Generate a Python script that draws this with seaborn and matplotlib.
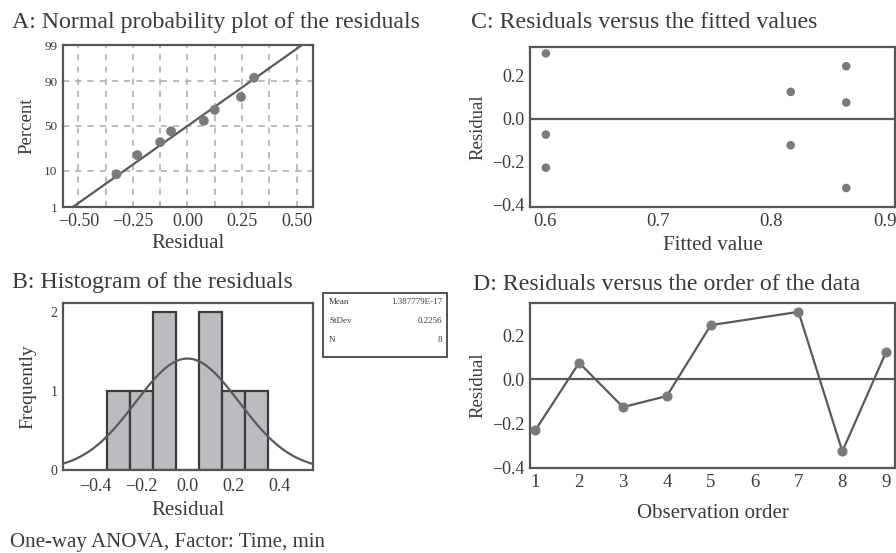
import numpy as np
import pandas as pd
import matplotlib
matplotlib.use("Agg")
import matplotlib.pyplot as plt
import seaborn as sns
from statistics import NormalDist
from matplotlib.ticker import FixedLocator, FuncFormatter
from matplotlib.patches import Rectangle

# ---------------- data ----------------
obs_order = [1, 2, 3, 4, 5, 7, 8, 9]
residuals = [-0.23, 0.075, -0.125, -0.075, 0.245, 0.305, -0.325, 0.125]
fitted = [0.601, 0.866, 0.817, 0.601, 0.866, 0.601, 0.866, 0.817]
prob_percent = [8.3, 20.2, 32.1, 44.0, 56.0, 67.9, 79.8, 91.7]
hist_bins = [-0.35, -0.25, -0.15, -0.05, 0.05, 0.15, 0.25, 0.35]
stat_labels = ["Mean", "StDev", "N"]
stat_values = ["1.387779E-17", "0.2256", "8"]
mean_res = 1.387779e-17
sd_res = 0.2256

titles = ["A: Normal probability plot of the residuals",
          "B: Histogram of the residuals",
          "C: Residuals versus the fitted values",
          "D: Residuals versus the order of the data"]
footer = "One-way ANOVA, Factor: Time, min"

# ---------------- style ----------------
sns.set_theme(style="white")
plt.rcParams["font.family"] = ["Liberation Serif", "DejaVu Serif"]
plt.rcParams["axes.unicode_minus"] = True
TXT = "#3a3a3a"
LINE = "#5a5a5a"
PT = "#7a7a7a"
plt.rcParams["text.color"] = TXT
plt.rcParams["axes.labelcolor"] = TXT
plt.rcParams["xtick.color"] = TXT
plt.rcParams["ytick.color"] = TXT

W, H = 896, 553
fig = plt.figure(figsize=(W / 100, H / 100), dpi=100)
fig.patch.set_facecolor("white")


def fmt(decimals):
    def f(v, pos):
        s = f"{v:.{decimals}f}"
        if s.startswith("-"):
            if float(s) == 0:
                s = s[1:]
            else:
                s = "\u2212" + s[1:]
        return s
    return FuncFormatter(f)


def ax_px(l, t, r, b):
    return fig.add_axes([l / W, 1 - b / H, (r - l) / W, (b - t) / H])


def frame(ax):
    for s in ax.spines.values():
        s.set_visible(True)
        s.set_color("#555555")
        s.set_linewidth(1.6)
    ax.tick_params(axis="both", which="major", direction="out", length=3,
                   width=1, color="#555555", pad=1)


axA = ax_px(63, 45, 313, 207)
axB = ax_px(63, 303, 313, 470)
axC = ax_px(530, 47, 895, 207)
axD = ax_px(530, 303, 895, 468)

# ---------------- A: normal probability plot ----------------
nd = NormalDist()
_ppf = np.vectorize(lambda v: nd.inv_cdf(v / 100.0), otypes=[float])
_cdf = np.vectorize(lambda v: nd.cdf(v) * 100.0, otypes=[float])


def fwd(p):
    p = np.clip(np.asarray(p, dtype=float), 1e-6, 100 - 1e-6)
    return _ppf(p)


def inv(z):
    return _cdf(np.asarray(z, dtype=float))


axA.set_yscale("function", functions=(fwd, inv))
sorted_res = sorted(residuals)
dfA = pd.DataFrame({"res": sorted_res, "pct": prob_percent})
xs = np.linspace(-0.6, 0.6, 200)
fit_pct = np.array([NormalDist(mean_res, sd_res).cdf(v) * 100 for v in xs])
axA.plot(xs, fit_pct, color=LINE, lw=1.6, zorder=3)
sns.scatterplot(data=dfA, x="res", y="pct", ax=axA, color=PT, s=50,
                edgecolor="none", zorder=4)
axA.set_xlim(-0.57, 0.575)
axA.set_ylim(1, 99)
axA.yaxis.set_major_locator(FixedLocator([1, 10, 50, 90, 99]))
axA.yaxis.set_minor_locator(FixedLocator([]))
axA.xaxis.set_major_locator(FixedLocator([-0.5, -0.25, 0, 0.25, 0.5]))
axA.xaxis.set_major_formatter(fmt(2))
axA.yaxis.set_major_formatter(fmt(0))
for gx in np.arange(-0.5, 0.51, 0.125):
    axA.axvline(gx, color="#a8a8a8", lw=1.1, ls=(0, (4, 4)), zorder=1)
for gy in [10, 50, 90]:
    axA.axhline(gy, color="#a8a8a8", lw=1.1, ls=(0, (4, 4)), zorder=1)
frame(axA)
axA.tick_params(axis="x", labelsize=13)
axA.tick_params(axis="y", labelsize=9.5)
axA.set_xlabel("Residual", fontsize=15, labelpad=3)
axA.set_ylabel("Percent", fontsize=13.5, labelpad=6)

# ---------------- B: histogram ----------------
sns.histplot(x=residuals, bins=hist_bins, ax=axB, color="#bcbcc0",
             edgecolor="#3c3c3c", linewidth=1.6, alpha=1, zorder=2)
xs2 = np.linspace(-0.56, 0.56, 300)
width = hist_bins[1] - hist_bins[0]
curve = [len(residuals) * width * NormalDist(mean_res, sd_res).pdf(v) for v in xs2]
axB.plot(xs2, curve, color=LINE, lw=1.6, zorder=3)
axB.set_xlim(-0.54, 0.545)
axB.set_ylim(0, 2.12)
axB.xaxis.set_major_locator(FixedLocator([-0.4, -0.2, 0, 0.2, 0.4]))
axB.xaxis.set_major_formatter(fmt(1))
axB.yaxis.set_major_locator(FixedLocator([0, 1, 2]))
frame(axB)
axB.tick_params(axis="x", labelsize=13, pad=3)
axB.tick_params(axis="y", labelsize=10)
axB.set_xlabel("Residual", fontsize=15, labelpad=4)
axB.set_ylabel("Frequently", fontsize=14, labelpad=10)

# stats box
bx0, by0, bx1, by1 = 323 / W, 1 - 357 / H, 447 / W, 1 - 293 / H
fig.patches.append(Rectangle((bx0, by0), bx1 - bx0, by1 - by0,
                             transform=fig.transFigure, fill=False,
                             edgecolor="#444444", lw=1.3))
for i, (lab, val) in enumerate(zip(stat_labels, stat_values)):
    yy = 1 - (302 + i * 19) / H
    fig.text(329 / W, yy, lab, fontsize=6.5, va="center", ha="left")
    fig.text(442 / W, yy, val, fontsize=6.5, va="center", ha="right")

# ---------------- C: residuals vs fitted ----------------
dfC = pd.DataFrame({"fit": fitted, "res": residuals})
sns.scatterplot(data=dfC, x="fit", y="res", ax=axC, color=PT, s=38,
                edgecolor="none", zorder=3)
axC.axhline(0, color=LINE, lw=1.6, zorder=2)
axC.set_xlim(0.587, 0.909)
axC.set_ylim(-0.414, 0.335)
axC.xaxis.set_major_locator(FixedLocator([0.6, 0.7, 0.8, 0.9]))
axC.xaxis.set_major_formatter(fmt(1))
axC.yaxis.set_major_locator(FixedLocator([-0.4, -0.2, 0.0, 0.2]))
axC.yaxis.set_major_formatter(fmt(1))
frame(axC)
axC.tick_params(axis="x", labelsize=13.5)
axC.tick_params(axis="y", labelsize=13)
axC.set_xlabel("Fitted value", fontsize=15, labelpad=5)
axC.set_ylabel("Residual", fontsize=13.5, labelpad=4)

# ---------------- D: residuals vs order ----------------
dfD = pd.DataFrame({"order": obs_order, "res": residuals})
sns.lineplot(data=dfD, x="order", y="res", ax=axD, color=LINE, lw=1.6,
             marker="o", markersize=6.5, markerfacecolor=PT,
             markeredgecolor=PT, zorder=3)
axD.axhline(0, color=LINE, lw=1.6, zorder=2)
axD.set_xlim(0.88, 9.2)
axD.set_ylim(-0.4, 0.345)
axD.xaxis.set_major_locator(FixedLocator(list(range(1, 10))))
axD.yaxis.set_major_locator(FixedLocator([-0.4, -0.2, 0.0, 0.2]))
axD.yaxis.set_major_formatter(fmt(1))
frame(axD)
axD.tick_params(axis="x", labelsize=13.5)
axD.tick_params(axis="y", labelsize=13)
axD.set_xlabel("Observation order", fontsize=15, labelpad=10)
axD.set_ylabel("Residual", fontsize=13.5, labelpad=4)

# ---------------- titles ----------------
fig.text(12 / W, 1 - 28 / H, titles[0], fontsize=17.2, va="baseline", ha="left")
fig.text(12 / W, 1 - 288 / H, titles[1], fontsize=17.2, va="baseline", ha="left")
fig.text(471 / W, 1 - 28 / H, titles[2], fontsize=17.2, va="baseline", ha="left")
fig.text(473 / W, 1 - 290 / H, titles[3], fontsize=17.2, va="baseline", ha="left")
fig.text(10 / W, 1 - 547 / H, footer, fontsize=15, va="baseline", ha="left")

fig.savefig("out.png", dpi=100, facecolor="white")
